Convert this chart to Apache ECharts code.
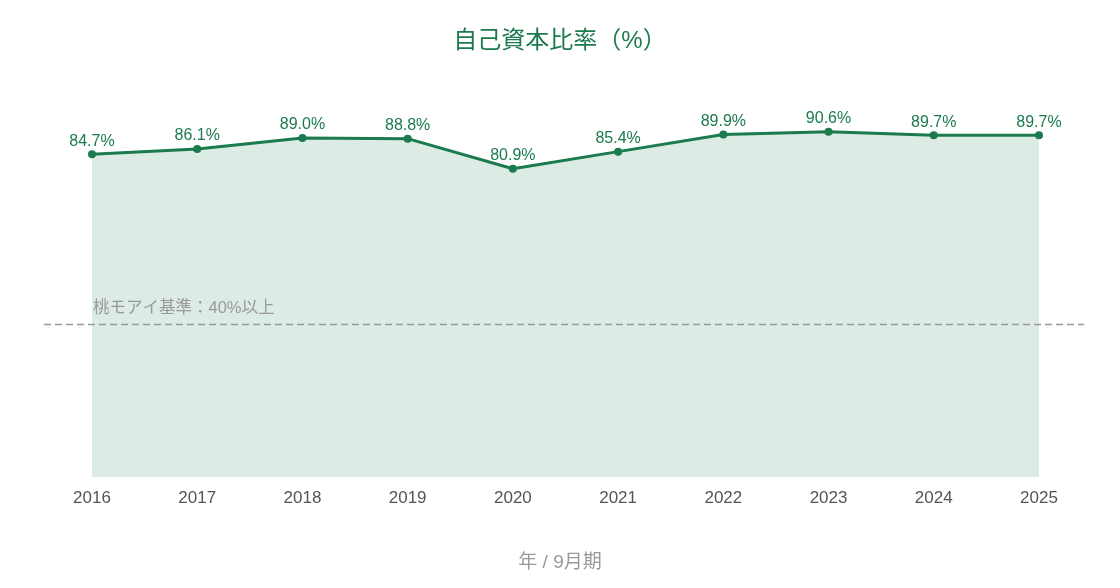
<!DOCTYPE html>
<html><head><meta charset="utf-8">
<script src="https://cdn.jsdelivr.net/npm/echarts@6/dist/echarts.min.js"></script>
<style>html,body{margin:0;padding:0;background:#fff}#c{width:1120px;height:588px}</style>
</head><body><div id="c"></div>
<script>
const years = ['2016','2017','2018','2019','2020','2021','2022','2023','2024','2025'];
const ratio = [84.7, 86.1, 89.0, 88.8, 80.9, 85.4, 89.9, 90.6, 89.7, 89.7];
const threshold = 40;
const thresholdLabel = '桃モアイ基準：40%以上';
const titleText = '自己資本比率（%）';
const xName = '年 / 9月期';

const green = '#1b7a4e';
const font = '"Liberation Sans", "Noto Sans CJK JP", sans-serif';
const chart = echarts.init(document.getElementById('c'));
chart.setOption({
  backgroundColor: '#fff',
  animation: false,
  textStyle: {fontFamily: font},
  title: [
    {text: titleText, left: 'center', top: 24,
      textStyle: {color: green, fontSize: 24, fontWeight: 'normal', fontFamily: font}},
    {text: xName, left: 'center', top: 548,
      textStyle: {color: '#999', fontSize: 19, fontWeight: 'normal', fontFamily: font}}
  ],
  grid: [
    {left: 92, right: 81, top: 96, bottom: 111},
    {left: 44, right: 36, top: 96, bottom: 111}
  ],
  xAxis: [
    {type: 'category', data: years, boundaryGap: false, gridIndex: 0,
      axisLine: {show: false}, axisTick: {show: false}, splitLine: {show: false},
      axisLabel: {color: '#555', fontSize: 17, margin: 13, fontFamily: font}},
    {type: 'value', gridIndex: 1, min: 0, max: 1, show: false}
  ],
  yAxis: [
    {type: 'value', min: 0, max: 100, gridIndex: 0, show: false},
    {type: 'value', min: 0, max: 100, gridIndex: 1, show: false}
  ],
  series: [
    {type: 'line', data: ratio, xAxisIndex: 0, yAxisIndex: 0, z: 5,
      symbol: 'circle', symbolSize: 8,
      itemStyle: {color: green},
      lineStyle: {color: green, width: 3},
      areaStyle: {color: '#dcebe3', opacity: 1},
      label: {show: true, position: 'top', distance: 1, color: green, fontSize: 16,
        fontFamily: font, formatter: p => p.value.toFixed(1) + '%'},
      markLine: {silent: true, symbol: 'none',
        lineStyle: {color: 'rgba(0,0,0,0)', width: 0},
        label: {show: true, position: 'insideStartTop', formatter: thresholdLabel,
          color: '#999', fontSize: 16.5, fontFamily: font, distance: [1, 8]},
        data: [{yAxis: threshold}]}},
    {type: 'line', data: [[0, threshold], [1, threshold]], xAxisIndex: 1, yAxisIndex: 1,
      symbol: 'none', silent: true, z: 8,
      lineStyle: {color: '#999', width: 1.5, type: [7, 4]}}
  ]
});
</script></body></html>
